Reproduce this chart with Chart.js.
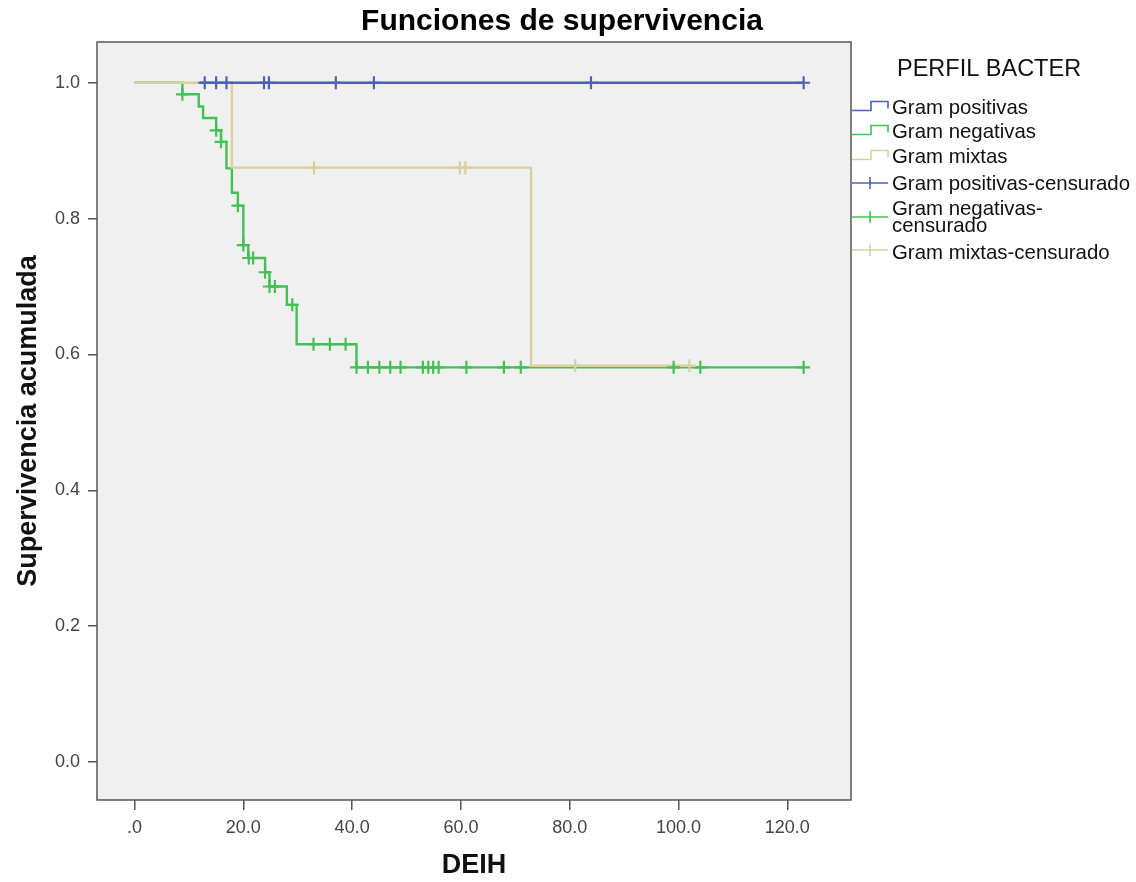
<!DOCTYPE html>
<html><head><meta charset="utf-8">
<script src="https://cdn.jsdelivr.net/npm/chart.js@4/dist/chart.umd.min.js"></script>
<style>html,body{margin:0;padding:0;background:#fff}</style>
</head><body>
<canvas id="c" width="1136" height="882"></canvas>
<script>
const chartTitle = 'Funciones de supervivencia';
const xTitle = 'DEIH';
const yTitle = 'Supervivencia acumulada';
const legendTitle = 'PERFIL BACTER';
const seriesNames = ['Gram positivas', 'Gram negativas', 'Gram mixtas'];
const censorNames = ['Gram positivas-censurado', ['Gram negativas-', 'censurado'], 'Gram mixtas-censurado'];
const xTickValues = [0, 20, 40, 60, 80, 100, 120];
const xTickLabels = ['.0', '20.0', '40.0', '60.0', '80.0', '100.0', '120.0'];
const yTickValues = [0, 0.2, 0.4, 0.6, 0.8, 1.0];
const yTickLabels = ['0.0', '0.2', '0.4', '0.6', '0.8', '1.0'];

// Gram positivas
const posStepTimes = [12.0, 123.0];
const posStepSurv = [1.0, 1.0];
const posCensorTimes = [12.9, 15.0, 16.9, 23.8, 24.7, 37.0, 44.0, 83.9, 123.0];

// Gram negativas
const negStepTimes = [0, 8.8, 11.8, 12.6, 15.0, 15.9, 16.9, 17.9, 19.0, 20.0, 20.9, 24.0, 24.8, 28.0, 29.8, 40.8, 123.0];
const negStepSurv = [1.0, 0.983, 0.965, 0.948, 0.930, 0.913, 0.874, 0.838, 0.819, 0.761, 0.742, 0.721, 0.700, 0.673, 0.615, 0.581, 0.581];
const negCensorTimes = [8.8, 15.0, 15.9, 19.0, 20.0, 21.0, 21.8, 24.0, 24.8, 25.8, 29.0, 32.9, 35.9, 38.8, 40.8, 42.9, 45.0, 47.0, 48.9, 53.0, 54.0, 54.9, 55.9, 61.0, 67.9, 71.0, 99.1, 104.0, 123.0];

// Gram mixtas
const mixStepTimes = [0, 17.9, 72.9, 102.0];
const mixStepSurv = [1.0, 0.875, 0.5833, 0.5833];
const mixCensorTimes = [33.0, 59.8, 60.8, 81.0, 102.0];

const colors = ['#4d62b6', '#44c054', '#d8d19e'];
const FONT = '"Liberation Sans", Arial, sans-serif';

function survAt(times, surv, t) {
  let v = surv[0];
  for (let i = 0; i < times.length; i++) if (times[i] <= t + 1e-9) v = surv[i];
  return v;
}
function stepData(times, surv) { return times.map((t, i) => ({x: t, y: surv[i]})); }
function censorData(ct, times, surv) { return ct.map(t => ({x: t, y: survAt(times, surv, t)})); }

const censorStyle = (c) => ({type: 'line', showLine: false, pointStyle: 'cross', pointRadius: 6.5, pointHoverRadius: 6.5, pointBorderWidth: 2.2, borderColor: c, backgroundColor: c});
const lineStyle = (c) => ({type: 'line', stepped: 'before', borderColor: c, borderWidth: 2.4, pointRadius: 0, fill: false});

const datasets = [
  Object.assign({label: censorNames[0], data: censorData(posCensorTimes, posStepTimes, posStepSurv)}, censorStyle(colors[0])),
  Object.assign({label: seriesNames[0], data: stepData(posStepTimes, posStepSurv)}, lineStyle(colors[0])),
  Object.assign({label: censorNames[2], data: censorData(mixCensorTimes, mixStepTimes, mixStepSurv)}, censorStyle(colors[2])),
  Object.assign({label: censorNames[1], data: censorData(negCensorTimes, negStepTimes, negStepSurv)}, censorStyle(colors[1])),
  Object.assign({label: seriesNames[2], data: stepData(mixStepTimes, mixStepSurv)}, lineStyle(colors[2])),
  Object.assign({label: seriesNames[1], data: stepData(negStepTimes, negStepSurv)}, lineStyle(colors[1]))
];

const bgPlugin = {
  id: 'plotBox',
  beforeDraw(chart) {
    const {ctx, chartArea: a} = chart;
    ctx.save();
    ctx.fillStyle = '#f0f0f0';
    ctx.fillRect(a.left, a.top, a.right - a.left, a.bottom - a.top);
    ctx.restore();
  },
  afterDraw(chart) {
    const {ctx, chartArea: a} = chart;
    ctx.save();
    ctx.strokeStyle = '#555';
    ctx.lineWidth = 1.5;
    ctx.strokeRect(a.left, a.top, a.right - a.left, a.bottom - a.top);
    ctx.fillStyle = '#000';
    ctx.font = 'bold 30px ' + FONT;
    ctx.textAlign = 'center';
    ctx.textBaseline = 'middle';
    ctx.fillText(chartTitle, 562, 22);
    ctx.restore();
  }
};

const legendPlugin = {
  id: 'kmLegend',
  afterDraw(chart) {
    const ctx = chart.ctx;
    const x0 = chart.chartArea.right + 1;
    ctx.save();
    ctx.fillStyle = '#111';
    ctx.textBaseline = 'middle';
    ctx.textAlign = 'left';
    ctx.font = '23.5px ' + FONT;
    ctx.fillText(legendTitle, x0 + 45, 70);
    ctx.font = '20.4px ' + FONT;
    const textX = x0 + 40;
    const stepRows = [108, 132, 157];
    ctx.lineWidth = 1.6;
    seriesNames.forEach((n, i) => {
      const y = stepRows[i];
      ctx.strokeStyle = colors[i];
      ctx.beginPath();
      ctx.moveTo(x0, y + 2.5); ctx.lineTo(x0 + 19, y + 2.5); ctx.lineTo(x0 + 19, y - 6.5);
      ctx.lineTo(x0 + 36, y - 6.5); ctx.lineTo(x0 + 36, y + 0.5);
      ctx.stroke();
      ctx.fillText(n, textX, y);
    });
    const censRows = [[184], [209, 226], [253]];
    const iconY = [183, 217, 250];
    censorNames.forEach((n, i) => {
      const y = iconY[i];
      ctx.strokeStyle = colors[i];
      ctx.beginPath();
      ctx.moveTo(x0, y); ctx.lineTo(x0 + 36, y);
      ctx.moveTo(x0 + 18, y - 6); ctx.lineTo(x0 + 18, y + 6);
      ctx.stroke();
      const lines = Array.isArray(n) ? n : [n];
      lines.forEach((l, k) => ctx.fillText(l, textX, censRows[i][k]));
    });
    ctx.restore();
  }
};

new Chart(document.getElementById('c'), {
  data: {datasets},
  options: {
    responsive: false,
    animation: false,
    devicePixelRatio: 1,
    layout: {autoPadding: false, padding: {left: 0, right: 285, top: 42, bottom: 0}},
    plugins: {
      legend: {display: false},
      tooltip: {enabled: false},
      title: {display: false}
    },
    scales: {
      x: {
        type: 'linear', min: -6.9, max: 131.7,
        afterBuildTicks: (s) => { s.ticks = xTickValues.map(v => ({value: v})); },
        afterFit: (s) => { s.height = 82; },
        ticks: {callback: (v) => xTickLabels[xTickValues.indexOf(v)], color: '#444', font: {family: FONT, size: 18}, padding: 7, maxRotation: 0, autoSkip: false},
        grid: {drawOnChartArea: false, drawTicks: true, tickLength: 10, color: '#555', lineWidth: 1.5},
        border: {display: false},
        title: {display: true, text: xTitle, color: '#111', font: {family: FONT, size: 27, weight: 'bold'}, padding: {top: 0, bottom: 0}}
      },
      y: {
        type: 'linear', min: -0.056, max: 1.06,
        afterBuildTicks: (s) => { s.ticks = yTickValues.map(v => ({value: v})); },
        afterFit: (s) => { s.width = 97; },
        ticks: {callback: (v) => yTickLabels[yTickValues.findIndex(t => Math.abs(t - v) < 1e-9)], color: '#444', font: {family: FONT, size: 18}, padding: 8, autoSkip: false},
        grid: {drawOnChartArea: false, drawTicks: true, tickLength: 9, color: '#555', lineWidth: 1.5},
        border: {display: false},
        title: {display: true, text: yTitle, color: '#111', font: {family: FONT, size: 27, weight: 'bold'}, padding: {top: 12, bottom: 0}}
      }
    }
  },
  plugins: [bgPlugin, legendPlugin]
});
</script>
</body></html>
